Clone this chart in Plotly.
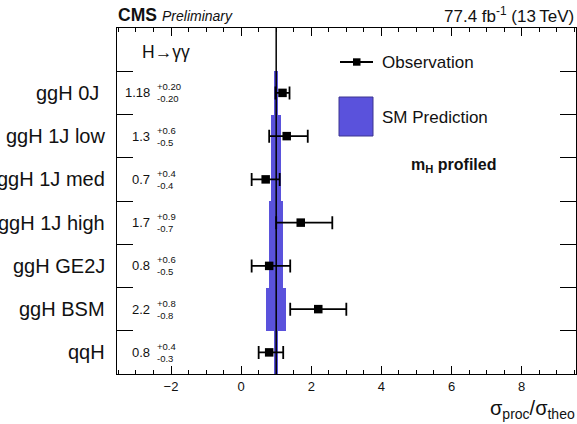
import plotly.graph_objects as go

# ---- data -------------------------------------------------------------
categories = ["ggH 0J\u00a0", "ggH 1J low", "ggH 1J med", "ggH 1J high",
              "ggH GE2J", "ggH BSM", "qqH"]
obs_value = [1.18, 1.3, 0.7, 1.7, 0.8, 2.2, 0.8]
obs_err_up = [0.20, 0.6, 0.4, 0.9, 0.6, 0.8, 0.4]
obs_err_down = [0.20, 0.5, 0.4, 0.7, 0.5, 0.8, 0.3]
label_decimals = [2, 1, 1, 1, 1, 1, 1]
sm_center = [1.0, 1.0, 1.0, 1.0, 1.0, 1.0, 1.0]
sm_halfwidth = [0.065, 0.15, 0.15, 0.2, 0.2, 0.29, 0.065]
x_tick_values = [-2, 0, 2, 4, 6, 8]

# ---- geometry ---------------------------------------------------------
W, H = 577, 424
ML, MR, MT, MB = 117, 1, 28, 50
PW, PH = W - ML - MR, H - MT - MB
X_RANGE = [-3.54, 9.55]
N_ROWS = len(categories) + 1          # extra top row for the channel label
FONT = "Liberation Sans, Arial, Helvetica, sans-serif"
TXT = "#111111"
BAND = "rgb(90,82,220)"


def px_x(p):
    return (p - ML) / PW


def px_y(p):
    return (H - MB - p) / PH


row_y = [len(categories) - 0.5 - i for i in range(len(categories))]

fig = go.Figure()

# SM prediction band (one full-height step per row)
fig.add_trace(go.Bar(
    orientation="h",
    y=row_y,
    x=[2 * w for w in sm_halfwidth],
    base=[c - w for c, w in zip(sm_center, sm_halfwidth)],
    width=1.0,
    marker=dict(color=BAND, line=dict(width=0)),
    showlegend=False, hoverinfo="skip",
))

# observed values with asymmetric errors
fig.add_trace(go.Scatter(
    x=obs_value, y=row_y, mode="markers",
    marker=dict(symbol="square", size=8.5, color="black"),
    error_x=dict(type="data", symmetric=False, array=obs_err_up,
                 arrayminus=obs_err_down, color="black",
                 thickness=1.8, width=6.5),
    showlegend=False, hoverinfo="skip",
))

shapes = [
    # SM reference line
    dict(type="line", xref="x", yref="paper", x0=1, x1=1, y0=0, y1=1,
         line=dict(color="black", width=1.5)),
    # legend: observation
    dict(type="line", xref="paper", yref="paper",
         x0=px_x(340), x1=px_x(373), y0=px_y(62), y1=px_y(62),
         line=dict(color="black", width=2)),
    dict(type="rect", xref="paper", yref="paper",
         x0=px_x(353), x1=px_x(360.5), y0=px_y(58.3), y1=px_y(65.7),
         fillcolor="black", line=dict(width=0)),
    # legend: SM prediction
    dict(type="rect", xref="paper", yref="paper",
         x0=px_x(339), x1=px_x(373), y0=px_y(136), y1=px_y(97),
         fillcolor=BAND, line=dict(color="#3c3490", width=1)),
]

annotations = []

# category labels
for name, y in zip(categories, row_y):
    annotations.append(dict(
        text=name, xref="paper", yref="y", x=px_x(107), y=y,
        xanchor="right", yanchor="middle", showarrow=False,
        font=dict(family=FONT, size=20, color=TXT)))

# value labels with stacked uncertainties
for v, up, dn, d, y in zip(obs_value, obs_err_up, obs_err_down,
                          label_decimals, row_y):
    annotations.append(dict(
        text=f"{v:.{d}f}", xref="paper", yref="y", x=px_x(151.5), y=y,
        xanchor="right", yanchor="middle", showarrow=False,
        font=dict(family=FONT, size=13, color=TXT)))
    annotations.append(dict(
        text=f"+{up:.{d}f}<br>-{dn:.{d}f}", xref="paper", yref="y",
        x=px_x(155), y=y, xanchor="left", yanchor="middle",
        showarrow=False, align="left",
        font=dict(family=FONT, size=9.5, color=TXT)))

annotations += [
    dict(text="H\u2192\u03b3\u03b3", xref="paper", yref="paper",
         x=px_x(140), y=px_y(52), xanchor="left", yanchor="middle",
         showarrow=False, font=dict(family=FONT, size=17.5, color=TXT)),
    dict(text="Observation", xref="paper", yref="paper",
         x=px_x(380), y=px_y(62), xanchor="left", yanchor="middle",
         showarrow=False, font=dict(family=FONT, size=17, color=TXT)),
    dict(text="SM Prediction", xref="paper", yref="paper",
         x=px_x(380), y=px_y(117), xanchor="left", yanchor="middle",
         showarrow=False, font=dict(family=FONT, size=17, color=TXT)),
    dict(text="<b>m<sub>H</sub> profiled</b>", xref="paper", yref="paper",
         x=px_x(409), y=px_y(165), xanchor="left", yanchor="middle",
         showarrow=False, font=dict(family=FONT, size=16, color=TXT)),
    dict(text="<b>CMS</b>", xref="paper", yref="paper",
         x=px_x(116), y=px_y(15), xanchor="left", yanchor="middle",
         showarrow=False, font=dict(family=FONT, size=17.5, color=TXT)),
    dict(text="<i>Preliminary</i>", xref="paper", yref="paper",
         x=px_x(160), y=px_y(16), xanchor="left", yanchor="middle",
         showarrow=False, font=dict(family=FONT, size=14, color=TXT)),
    dict(text="77.4 fb<sup>-1</sup> (13\u2009TeV)", xref="paper",
         yref="paper", x=px_x(576), y=px_y(14.5), xanchor="right",
         yanchor="middle", showarrow=False,
         font=dict(family=FONT, size=17, color=TXT)),
    dict(text="\u03c3<sub>proc</sub>/\u03c3<sub>theo</sub>", xref="paper",
         yref="paper", x=px_x(577), y=px_y(409), xanchor="right",
         yanchor="middle", showarrow=False,
         font=dict(family=FONT, size=20, color=TXT)),
]

fig.update_layout(
    width=W, height=H,
    margin=dict(l=ML, r=MR, t=MT, b=MB, pad=0),
    paper_bgcolor="white", plot_bgcolor="white",
    bargap=0, barmode="overlay",
    shapes=shapes, annotations=annotations,
    xaxis=dict(
        range=X_RANGE, tickmode="array", tickvals=x_tick_values,
        ticks="inside", ticklen=8, tickwidth=1, tickcolor="black",
        minor=dict(tickmode="linear", tick0=0, dtick=0.5, ticks="inside",
                   ticklen=4, tickwidth=1, tickcolor="black"),
        showline=True, linecolor="black", linewidth=1, mirror="ticks",
        showgrid=False, zeroline=False,
        tickfont=dict(family=FONT, size=13, color=TXT),
    ),
    yaxis=dict(
        range=[0, N_ROWS], tickmode="array",
        tickvals=list(range(1, N_ROWS)), showticklabels=False,
        ticks="inside", ticklen=16, tickwidth=1, tickcolor="black",
        showline=True, linecolor="black", linewidth=1, mirror="ticks",
        showgrid=False, zeroline=False,
    ),
)

fig.write_html("out.html")
